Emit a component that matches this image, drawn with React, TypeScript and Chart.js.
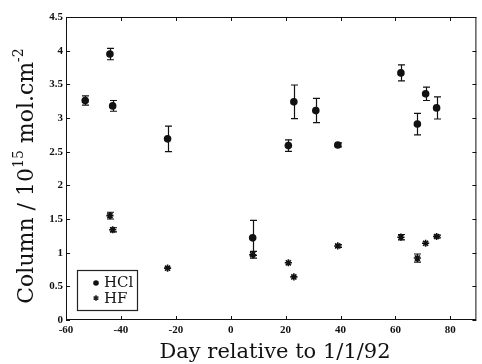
import React, { useEffect, useRef } from "react";
import { Chart, registerables } from "chart.js";

Chart.register(...registerables);

const hclDays = [-53, -44, -43, -23, 8, 21, 23, 31, 39, 62, 68, 71, 75];
const hclValues = [3.26, 3.95, 3.18, 2.69, 1.22, 2.59, 3.24, 3.11, 2.6, 3.67, 2.91, 3.36, 3.15];
const hclErrors = [0.07, 0.085, 0.08, 0.19, 0.26, 0.085, 0.25, 0.18, 0.03, 0.12, 0.16, 0.1, 0.165];

const hfDays = [-44, -43, -23, 8, 21, 23, 39, 62, 68, 71, 75];
const hfValues = [1.55, 1.34, 0.77, 0.97, 0.85, 0.64, 1.1, 1.23, 0.92, 1.14, 1.24];
const hfErrors = [0.05, 0.03, 0.01, 0.05, 0.01, 0.01, 0.02, 0.04, 0.06, 0.01, 0.02];

const xMin = -60;
const xMax = 89.5;
const yMin = 0;
const yMax = 4.5;
const xStep = 20;
const yStep = 0.5;

const xTitle = "Day relative to 1/1/92";
const yTitleParts: [string, boolean][] = [
  ["Column / 10", false],
  ["15", true],
  [" mol.cm", false],
  ["-2", true],
];
const legendLabels = ["HCl", "HF"];

const SERIF = "'Liberation Serif', 'DejaVu Serif', serif";
const WIDE = "'DejaVu Serif', 'Liberation Serif', serif";

const decorPlugin = {
  id: "decor",
  beforeDatasetsDraw(chart: any) {
    const ctx = chart.ctx;
    const xs = chart.scales.x;
    const ys = chart.scales.y;
    ctx.save();
    ctx.strokeStyle = "#111";
    ctx.lineWidth = 1.2;
    chart.data.datasets.forEach((ds: any) => {
      const errs: number[] = ds.errors || [];
      ds.data.forEach((p: any, i: number) => {
        const e = errs[i];
        if (!e || e < 0.02) return;
        const px = Math.round(xs.getPixelForValue(p.x)) + 0.5;
        const top = ys.getPixelForValue(p.y + e);
        const bot = ys.getPixelForValue(p.y - e);
        ctx.beginPath();
        ctx.moveTo(px, top);
        ctx.lineTo(px, bot);
        ctx.moveTo(px - 3.5, top);
        ctx.lineTo(px + 3.5, top);
        ctx.moveTo(px - 3.5, bot);
        ctx.lineTo(px + 3.5, bot);
        ctx.stroke();
      });
    });
    ctx.restore();
  },
  afterDraw(chart: any) {
    const ctx = chart.ctx;
    const a = chart.chartArea;
    const xs = chart.scales.x;
    const ys = chart.scales.y;
    ctx.save();
    ctx.strokeStyle = "#111";
    ctx.lineWidth = 1;
    ctx.strokeRect(a.left + 0.5, a.top + 0.5, a.right - a.left - 1, a.bottom - a.top - 1);
    ctx.beginPath();
    xs.ticks.forEach((t: any) => {
      const px = Math.round(xs.getPixelForValue(t.value)) + 0.5;
      ctx.moveTo(px, a.bottom);
      ctx.lineTo(px, a.bottom - 4);
      ctx.moveTo(px, a.top);
      ctx.lineTo(px, a.top + 4);
    });
    ys.ticks.forEach((t: any) => {
      const py = Math.round(ys.getPixelForValue(t.value)) + 0.5;
      ctx.moveTo(a.left, py);
      ctx.lineTo(a.left + 4, py);
      ctx.moveTo(a.right, py);
      ctx.lineTo(a.right - 4, py);
    });
    ctx.stroke();

    // x title
    ctx.fillStyle = "#111";
    ctx.font = `21px ${WIDE}`;
    ctx.textAlign = "center";
    ctx.textBaseline = "alphabetic";
    ctx.fillText(xTitle, 275, 358);

    // y title with superscripts
    const big = `22px ${WIDE}`;
    const small = `14px ${WIDE}`;
    let total = 0;
    yTitleParts.forEach(([s, sup]) => {
      ctx.font = sup ? small : big;
      total += ctx.measureText(s).width;
    });
    ctx.translate(33, 176);
    ctx.rotate(-Math.PI / 2);
    ctx.textAlign = "left";
    let cx = -total / 2;
    yTitleParts.forEach(([s, sup]) => {
      ctx.font = sup ? small : big;
      ctx.fillText(s, cx, sup ? -10 : 0);
      cx += ctx.measureText(s).width;
    });
    ctx.restore();

    // legend
    ctx.save();
    ctx.strokeStyle = "#222";
    ctx.lineWidth = 1.2;
    ctx.strokeRect(77.5, 270.5, 60, 40);
    ctx.fillStyle = "#111";
    ctx.beginPath();
    ctx.arc(96, 283, 2.8, 0, Math.PI * 2);
    ctx.fill();
    ctx.lineWidth = 1.6;
    ctx.beginPath();
    for (let k = 0; k < 3; k++) {
      const ang = (k * Math.PI) / 3 + Math.PI / 2;
      ctx.moveTo(96 + 2.8 * Math.cos(ang), 298 + 2.8 * Math.sin(ang));
      ctx.lineTo(96 - 2.8 * Math.cos(ang), 298 - 2.8 * Math.sin(ang));
    }
    ctx.stroke();
    ctx.font = `15px ${WIDE}`;
    ctx.textAlign = "left";
    ctx.textBaseline = "middle";
    ctx.fillText(legendLabels[0], 104, 283);
    ctx.fillText(legendLabels[1], 104, 299);
    ctx.restore();
  },
};

export default function App() {
  const ref = useRef<HTMLCanvasElement | null>(null);
  useEffect(() => {
    document.body.style.margin = "0";
    const canvas = ref.current;
    if (!canvas) return;
    const chart = new Chart(canvas, {
      type: "scatter",
      data: {
        datasets: [
          {
            label: legendLabels[0],
            data: hclDays.map((d, i) => ({ x: d, y: hclValues[i] })),
            errors: hclErrors,
            pointStyle: "circle",
            pointRadius: 3.8,
            backgroundColor: "#111",
            borderColor: "#111",
            borderWidth: 0,
          } as any,
          {
            label: legendLabels[1],
            data: hfDays.map((d, i) => ({ x: d, y: hfValues[i] })),
            errors: hfErrors,
            pointStyle: "star",
            pointRadius: 3.6,
            backgroundColor: "#111",
            borderColor: "#111",
            borderWidth: 1.6,
          } as any,
        ],
      },
      options: {
        animation: false,
        responsive: false,
        maintainAspectRatio: false,
        layout: { padding: { top: 17, right: 1, left: 0, bottom: 0 } },
        plugins: { legend: { display: false }, tooltip: { enabled: false } },
        scales: {
          x: {
            type: "linear",
            min: xMin,
            max: xMax,
            grid: { display: false, drawTicks: false },
            border: { display: false },
            ticks: {
              stepSize: xStep,
              includeBounds: false,
              color: "#111",
              padding: 4,
              maxRotation: 0,
              font: { family: SERIF, size: 11, weight: "bold" },
            },
            afterFit: (s: any) => {
              s.height = 44;
            },
          },
          y: {
            type: "linear",
            min: yMin,
            max: yMax,
            grid: { display: false, drawTicks: false },
            border: { display: false },
            ticks: {
              stepSize: yStep,
              color: "#111",
              padding: 3,
              font: { family: SERIF, size: 11, weight: "bold" },
              callback: (v: any) => `${+Number(v).toFixed(2)}`,
            },
            afterFit: (s: any) => {
              s.width = 66;
            },
          },
        },
      } as any,
      plugins: [decorPlugin],
    });
    return () => chart.destroy();
  }, []);
  return <canvas ref={ref} width={482} height={364} style={{ display: "block" }} />;
}
